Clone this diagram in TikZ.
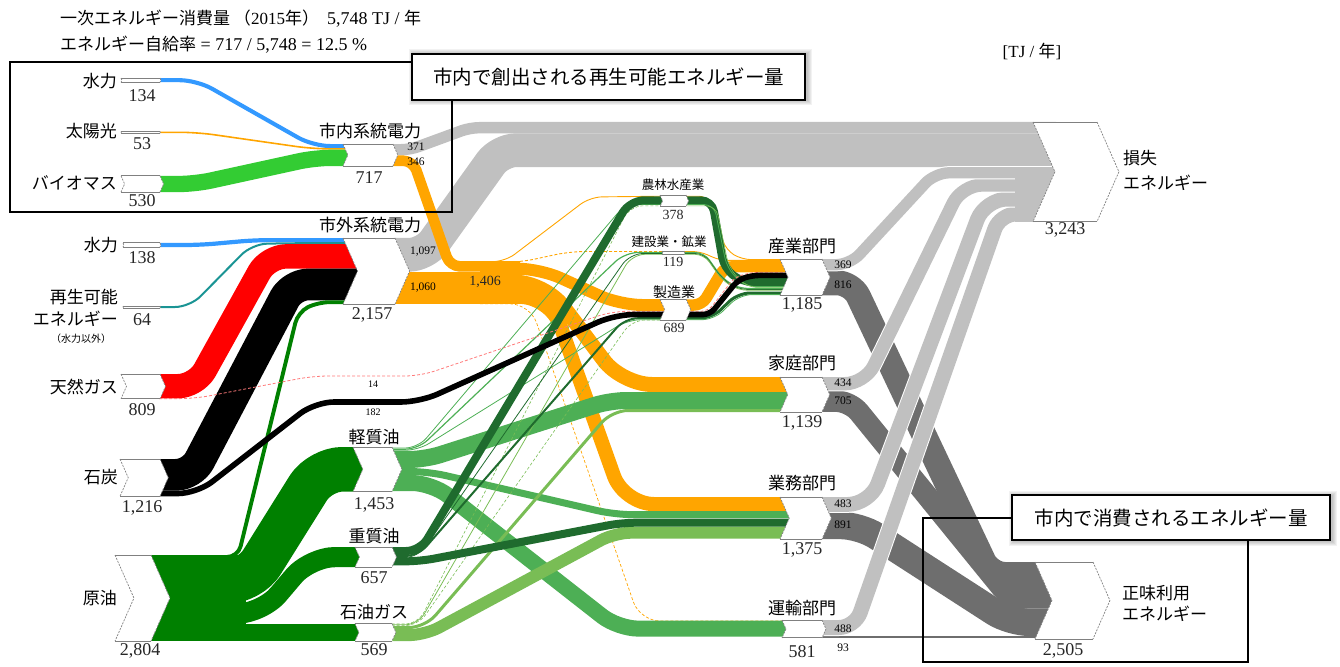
\documentclass[tikz,border=0pt]{standalone}
\usepackage{fontspec}
\setmainfont{Liberation Serif}
\newfontfamily\jp{Noto Sans CJK JP}
\definecolor{cblue}{HTML}{3399FF}
\definecolor{corange}{HTML}{FFA500}
\definecolor{cbio}{HTML}{33CC33}
\definecolor{cteal}{HTML}{1A9494}
\definecolor{cred}{HTML}{FF0000}
\definecolor{cpink}{HTML}{FF7A7A}
\definecolor{ccrude}{HTML}{008000}
\definecolor{clight}{HTML}{4DAF55}
\definecolor{cheavy}{HTML}{1F6B2E}
\definecolor{cgas}{HTML}{79BD55}
\definecolor{closs}{HTML}{C0C0C0}
\definecolor{cuse}{HTML}{6E6E6E}
\definecolor{cedge}{HTML}{808080}
\tikzset{
 flowline/.style={line cap=butt, line join=round, rounded corners=15pt},
 thindash/.style={dash pattern=on 3pt off 2pt},
 boxedge/.style={draw=cedge, line width=0.9pt},
 boxside/.style={draw=cedge, line width=0.7pt, dash pattern=on 2pt off 1.2pt},
 jl/.style={font=\jp\fontsize{17}{20}\selectfont, inner sep=0pt},
 nm/.style={font=\fontsize{18}{20}\selectfont, inner sep=0pt, text=black!85},
 sm/.style={font=\fontsize{11.5}{13}\selectfont, inner sep=0pt},
 tiny/.style={font=\fontsize{10}{12}\selectfont, inner sep=0pt},
 js/.style={font=\jp\fontsize{12.5}{14}\selectfont, inner sep=0pt},
 jm/.style={font=\jp\fontsize{14}{16}\selectfont, inner sep=0pt},
 nms/.style={font=\fontsize{14}{16}\selectfont, inner sep=0pt, text=black!85},
 frame/.style={draw=black, line width=2.5pt},
 callout/.style={draw=black, line width=1.2pt, fill=white, font=\jp\fontsize{19.5}{22}\selectfont, inner sep=0pt},
}
% band: [options]{colour}{width}{path}
\newcommand\band[4][]{\draw[flowline,draw=#2,line width=#3pt,#1] #4;}
% cased light-grey band
\newcommand\lband[3][]{\draw[flowline,draw=white,line width=#2pt+2pt,#1] #3;\draw[flowline,draw=closs,line width=#2pt,#1] #3;}
% chevron box: name, xleft, ytop, xright, ybottom
\newcommand\chev[5]{%
  \pgfmathsetmacro\chd{min(22,0.22*(#5-#3))}%
  \pgfmathsetmacro\chm{(#3+#5)/2}%
  \fill[white] (#2,#3) -- (#4,#3) -- ({#4+\chd},\chm) -- (#4,#5) -- (#2,#5) -- ({#2+\chd},\chm) -- cycle;
  \draw[boxedge] (#2,#3) -- (#4,#3) (#2,#5) -- (#4,#5);
  \draw[boxside] (#4,#3) -- ({#4+\chd},\chm) -- (#4,#5) (#2,#3) -- ({#2+\chd},\chm) -- (#2,#5);
  \coordinate (#1) at ({(#2+#4)/2},\chm);
}
\begin{document}
\begin{tikzpicture}[x=1pt,y=-1pt]
\useasboundingbox (0,0) rectangle (1340,666);

% ---------- losses from electricity (top grey band)
\band[rounded corners=16pt]{closs}{33.7}{(393.5,254.8) -- (425,254.8) -- (500,150.2) -- (1056,150.2)}
\band[rounded corners=9pt]{closs}{11.4}{(391.5,149.7) -- (410,149.7) -- (470,127.7) -- (1056,127.7)}

% ---------- renewable inputs inside the frame
\band[rounded corners=17pt]{cblue}{4.1}{(159,80.2) -- (197,80.2) -- (313,146.05) -- (348.5,146.05)}
\band[rounded corners=17pt]{corange}{1.6}{(159,132.3) -- (197,132.3) -- (313,148.9) -- (348.5,148.9)}
\band[rounded corners=16pt]{cbio}{16.3}{(159,184) -- (195,184) -- (315,157.85) -- (348.5,157.85)}

% ---------- inputs to outside grid electricity
\band[rounded corners=15pt]{cblue}{4.2}{(159,245) -- (200,245) -- (255,240.1) -- (358.5,240.1)}
\band[rounded corners=15pt]{cteal}{2}{(159,307) -- (190,307) -- (252,244) -- (290,243.2) -- (358.5,243.2)}
\band[rounded corners=18pt]{cred}{24.4}{(159,386.2) -- (196,386.2) -- (268,256.4) -- (358.5,256.4)}
\band[rounded corners=16pt]{black}{31.7}{(159,474.85) -- (192,474.85) -- (292,284.5) -- (358.5,284.5)}

% ---------- crude oil
\fill[ccrude] (150.5,555) rectangle (246,641.1);
\band[rounded corners=22pt]{ccrude}{44.6}{(150.5,581.2) -- (250,581.2) -- (320,469.3) -- (364,469.3)}
\band[rounded corners=25pt]{ccrude}{20.2}{(150.5,613.6) -- (262,613.6) -- (310,557.1) -- (360.5,557.1)}
\band{ccrude}{17.5}{(150.5,632.35) -- (360,632.35)}
\band[rounded corners=11pt]{ccrude}{3.9}{(150.5,557) -- (238,557) -- (298,312) -- (318,302.2) -- (358.5,302.2)}

% ---------- electricity (orange)
\band[rounded corners=10pt]{corange}{10.6}{(391.5,160.7) -- (413,160.7) -- (450,266.4) -- (520,266.4)}
\band{corange}{32.5}{(393.5,288) -- (520,288)}
\band[rounded corners=22pt]{corange}{12}{(480,268.7) -- (540,268.7) -- (620,305) -- (666,305)}
\band[rounded corners=30pt]{corange}{15}{(480,282.2) -- (545,282.2) -- (622,384.5) -- (789,384.5)}
\band[rounded corners=30pt]{corange}{14.2}{(480,296.8) -- (550,296.8) -- (624,504.1) -- (790,504.1)}
\band[rounded corners=20pt,thindash]{corange}{0.7}{(480,303.8) -- (530,303.8) -- (640,621) -- (787,621)}
\band[rounded corners=12pt]{corange}{0.9}{(480,261.6) -- (505,261.6) -- (590,197) -- (663,196.2)}
\band[rounded corners=15pt,thindash]{corange}{0.9}{(480,262.3) -- (520,262.3) -- (570,251.5) -- (663,251.5)}
\band[rounded corners=9pt]{corange}{0.9}{(685.5,196.2) -- (708,196.2) -- (726,250) -- (742,259.6) -- (789,259.6)}
\band[rounded corners=8pt]{corange}{0.9}{(683.5,251.5) -- (700,251.5) -- (720,260.4) -- (789,260.4)}
\band[rounded corners=8pt]{corange}{11.5}{(685.5,305) -- (702,305) -- (725,266.7) -- (789,266.7)}

% ---------- light oil
\band[rounded corners=13pt]{clight}{0.8}{(391.5,448) -- (418,448) -- (625,204.5) -- (663,204.5)}
\band[rounded corners=13pt]{clight}{1.2}{(391.5,449.2) -- (418,449.2) -- (625,252.5) -- (663,252.5)}
\band[rounded corners=13pt]{clight}{0.8}{(391.5,450.3) -- (418,450.3) -- (628,319.7) -- (666,319.7)}
\band[rounded corners=16pt]{clight}{17}{(391.5,459.5) -- (425,459.5) -- (610,400.5) -- (789,400.5)}
\band[rounded corners=18pt]{clight}{7}{(391.5,471.5) -- (428,471.5) -- (615,514.7) -- (790,514.7)}
\band[rounded corners=20pt]{clight}{16}{(391.5,483) -- (432,483) -- (618,628.6) -- (787,628.6)}

% ---------- petroleum gas
\band[rounded corners=13pt,thindash]{cgas}{0.6}{(391.5,624) -- (418,624) -- (630,205.8) -- (663,205.8)}
\band[rounded corners=13pt]{cgas}{0.8}{(391.5,624.8) -- (418,624.8) -- (632,254.3) -- (663,254.3)}
\band[rounded corners=13pt,thindash]{cgas}{0.6}{(391.5,625.6) -- (418,625.6) -- (632,320) -- (666,320)}
\band[rounded corners=16pt]{cgas}{3}{(391.5,627.5) -- (425,627.5) -- (612,410.5) -- (789,410.5)}
\band[rounded corners=16pt]{cgas}{12}{(391.5,635.1) -- (425,635.1) -- (615,532.7) -- (790,532.7)}

% ---------- heavy oil
\band[rounded corners=14pt]{cheavy}{8}{(391.5,551) -- (420,551) -- (630,200.3) -- (663,200.3)}
\band[rounded corners=13pt]{cheavy}{2}{(391.5,556) -- (418,556) -- (625,318.2) -- (666,318.2)}
\band[rounded corners=13pt]{cheavy}{0.8}{(391.5,557.5) -- (418,557.5) -- (630,253.5) -- (663,253.5)}
\band[rounded corners=14pt]{cheavy}{8}{(391.5,561.3) -- (420,561.3) -- (622,522.7) -- (790,522.7)}

% ---------- sub-sectors to industry (greens)
\band[rounded corners=11pt]{cheavy}{8}{(685.5,200.3) -- (712,200.3) -- (724,268) -- (742,282.2) -- (789,282.2)}
\band[rounded corners=10pt]{clight}{0.8}{(685.5,204.5) -- (714,204.5) -- (727,268) -- (745,286.6) -- (789,286.6)}
\band[rounded corners=10pt]{cgas}{0.6}{(685.5,205.8) -- (716,205.8) -- (729,268) -- (747,287.4) -- (789,287.4)}
\band[rounded corners=9pt]{clight}{1.2}{(683.5,252.5) -- (704,252.5) -- (722,278) -- (738,288.4) -- (789,288.4)}
\band[rounded corners=9pt]{cheavy}{0.8}{(683.5,253.5) -- (704,253.5) -- (722,279) -- (738,289.4) -- (789,289.4)}
\band[rounded corners=9pt]{cgas}{0.8}{(683.5,254.3) -- (704,254.3) -- (722,280) -- (738,290.2) -- (789,290.2)}
\band[rounded corners=12pt]{cheavy}{3}{(685.5,318.2) -- (712,318.2) -- (738,293) -- (789,293)}
\band[rounded corners=12pt]{clight}{0.8}{(685.5,319.7) -- (714,319.7) -- (740,294.6) -- (789,294.6)}

% ---------- natural gas and coal to manufacturing
\band[rounded corners=15pt,thindash]{cpink}{0.8}{(159,398.6) -- (195,398.6) -- (313,376) -- (420,376) -- (612,311.3) -- (666,311.3)}
\band[rounded corners=7pt,thindash]{cpink}{0.8}{(685.5,311.3) -- (708,311.3) -- (735,277) -- (752,272.3) -- (789,272.3)}
\band[rounded corners=19pt]{black}{5.6}{(159,493.5) -- (197,493.5) -- (315,402) -- (420,402) -- (615,314.5) -- (666,314.5)}
\band[rounded corners=7pt]{black}{5.6}{(685.5,314.5) -- (710,314.5) -- (738,280) -- (752,275.4) -- (789,275.4)}

% ---------- useful energy (dark grey)
\band[rounded corners=15pt]{cuse}{25}{(821.5,282.8) -- (852,282.8) -- (990,574.5) -- (1053,574.5)}
\band[rounded corners=14pt]{cuse}{21.6}{(821.5,401.1) -- (850,401.1) -- (1010,597.8) -- (1053,597.8)}
\band[rounded corners=19pt]{cuse}{27.4}{(821.5,525.5) -- (860,525.5) -- (1010,622.3) -- (1053,622.3)}
\band{cuse}{2.9}{(821.5,637) -- (1053,637)}

% ---------- losses from sectors (light grey)
\lband[rounded corners=16pt]{15}{(821.5,627.5) -- (855,627.5) -- (1000,214) -- (1056,214)}
\lband[rounded corners=22pt]{14.8}{(821.5,504.4) -- (870,504.4) -- (985,199.1) -- (1056,199.1)}
\lband[rounded corners=20pt]{13.3}{(821.5,383.7) -- (865,383.7) -- (962,185) -- (1056,185)}
\lband[rounded corners=14pt]{11.3}{(821.5,264.7) -- (850,264.7) -- (935,172.8) -- (1056,172.8)}
\fill[closs] (1015,168) rectangle (1056,221.6);

% ---------- boxes
\chev{mizu1}{121}{78.1}{160}{82.3}
\chev{taiyo}{121}{131.5}{160}{133.1}
\chev{bio}{121}{175.8}{160}{192.1}
\chev{mizu2}{123}{242.9}{160}{247.1}
\chev{saisei}{123}{306}{160}{308}
\chev{tgas}{121}{374}{160}{398.8}
\chev{coal}{120}{459}{160}{496.3}
\chev{crude}{115}{555}{151}{641.1}
\chev{shinai}{343}{144}{393}{166}
\chev{shigai}{343}{238}{395}{304.2}
\chev{loil}{353}{447}{392}{491.6}
\chev{hoil}{355}{547}{392}{567.2}
\chev{lpg}{355}{623.6}{392}{641.1}
\chev{norin}{660}{195}{686}{206.6}
\chev{kensetsu}{662}{251}{684}{254.7}
\chev{seizo}{660}{299}{686}{320.2}
\chev{sangyo}{780}{259}{822}{295.4}
\chev{katei}{780}{377}{822}{412}
\chev{gyomu}{780}{497}{822}{539.2}
\chev{unyu}{782}{620}{822}{637.9}
\chev{sonshitsu}{1033}{122}{1097}{221.6}
\chev{shomi}{1035}{562}{1093}{639}

% ---------- frames and callouts
\draw[frame] (10,62) rectangle (452,212);
\draw[frame] (923,518) rectangle (1248,662);
\foreach \s in {1,...,5}{\fill[black,opacity=0.05] (412-\s+1.5,54-\s+0.5) rectangle (805+\s+1.5,100+\s+0.5);}
\node[callout, minimum width=393pt, minimum height=46pt] (c1) at (608.5,77) {市内で創出される再生可能エネルギー量};
\foreach \s in {1,...,5}{\fill[black,opacity=0.05] (1012-\s+1.5,495-\s+0.5) rectangle (1330+\s+1.5,540+\s+0.5);}
\node[callout, minimum width=318pt, minimum height=45pt] (c2) at (1171,517.5) {市内で消費されるエネルギー量};

% ---------- header
\node[jl, anchor=west] (h1) at (60,19) {一次エネルギー消費量 （\rmfamily 2015\jp 年）\hspace{8pt}\rmfamily\fontsize{18}{20}\selectfont 5,748 TJ / \jp\fontsize{17}{20}\selectfont 年};
\node[jl, anchor=west] (h2) at (60,45) {エネルギー自給率\rmfamily\fontsize{18}{20}\selectfont\ = 717 / 5,748 = 12.5 \%};
\node[jl] (unit) at (1032,51) {\rmfamily [TJ / \jp 年\rmfamily ]};

% ---------- left labels
\node[jl, anchor=east] (l1) at (117,81) {水力};
\node[nm] (n1) at (142,96) {134};
\node[jl, anchor=east] (l2) at (117,131) {太陽光};
\node[nm] (n2) at (142,144) {53};
\node[jl, anchor=east] (l3) at (117,183) {バイオマス};
\node[nm] (n3) at (142,201) {530};
\node[jl, anchor=east] (l4) at (118,245) {水力};
\node[nm] (n4) at (142,258) {138};
\node[jl, anchor=east] (l5a) at (118,297) {再生可能};
\node[jl, anchor=east] (l5b) at (118,319) {エネルギー};
\node[font=\jp\fontsize{10}{12}\selectfont, inner sep=0pt] (l5c) at (81,339) {（水力以外）};
\node[nm] (n5) at (142,320) {64};
\node[jl, anchor=east] (l6) at (118,387) {天然ガス};
\node[nm] (n6) at (142,410) {809};
\node[jl, anchor=east] (l7) at (118,477) {石炭};
\node[nm] (n7) at (142,508) {1,216};
\node[jl, anchor=east] (l8) at (117,598) {原油};
\node[nm] (n8) at (140,651) {2,804};

% ---------- middle labels
\node[jl] (m1) at (370,131) {市内系統電力};
\node[nm] (m1n) at (369,178) {717};
\node[sm] (m1a) at (416,147) {371};
\node[sm] (m1b) at (416,162) {346};
\node[jl] (m2) at (370,225) {市外系統電力};
\node[nm] (m2n) at (372,315) {2,157};
\node[sm] (m2a) at (423,252) {1,097};
\node[sm] (m2b) at (423,288) {1,060};
\node[nms] (el) at (485,282) {1,406};
\node[tiny] (g14) at (373,384) {14};
\node[tiny] (c182) at (373,412) {182};
\node[jl] (o1) at (374,437) {軽質油};
\node[nm] (o1n) at (374,505) {1,453};
\node[jl] (o2) at (374,536) {重質油};
\node[nm] (o2n) at (374,578) {657};
\node[jl] (o3) at (374,612) {石油ガス};
\node[nm] (o3n) at (374,650) {569};

% ---------- sub-sector labels
\node[js] (s1) at (673,185) {農林水産業};
\node[nms] (s1n) at (673,215) {378};
\node[js] (s2) at (669,242) {建設業・鉱業};
\node[nms] (s2n) at (673,262) {119};
\node[jm] (s3) at (674,292) {製造業};
\node[nms] (s3n) at (674,328) {689};

% ---------- sector labels
\node[jl] (d1) at (802,246) {産業部門};
\node[nm] (d1n) at (802,305) {1,185};
\node[sm] (d1a) at (843,265) {369};
\node[sm] (d1b) at (843,285) {816};
\node[jl] (d2) at (802,363) {家庭部門};
\node[nm] (d2n) at (802,423) {1,139};
\node[sm] (d2a) at (843,383) {434};
\node[sm] (d2b) at (843,401) {705};
\node[jl] (d3) at (802,483) {業務部門};
\node[nm] (d3n) at (802,550) {1,375};
\node[sm] (d3a) at (843,504) {483};
\node[sm] (d3b) at (843,525) {891};
\node[jl] (d4) at (802,608) {運輸部門};
\node[nm] (d4n) at (802,652) {581};
\node[sm] (d4a) at (843,629) {488};
\node[sm] (d4b) at (843,648) {93};

% ---------- right labels
\node[jl, anchor=west] (r1a) at (1123,158) {損失};
\node[jl, anchor=west] (r1b) at (1123,183) {エネルギー};
\node[nm] (r1n) at (1065,230) {3,243};
\node[jl, anchor=west] (r2a) at (1122,593) {正味利用};
\node[jl, anchor=west] (r2b) at (1122,614) {エネルギー};
\node[nm] (r2n) at (1063,651) {2,505};
\end{tikzpicture}
\end{document}
